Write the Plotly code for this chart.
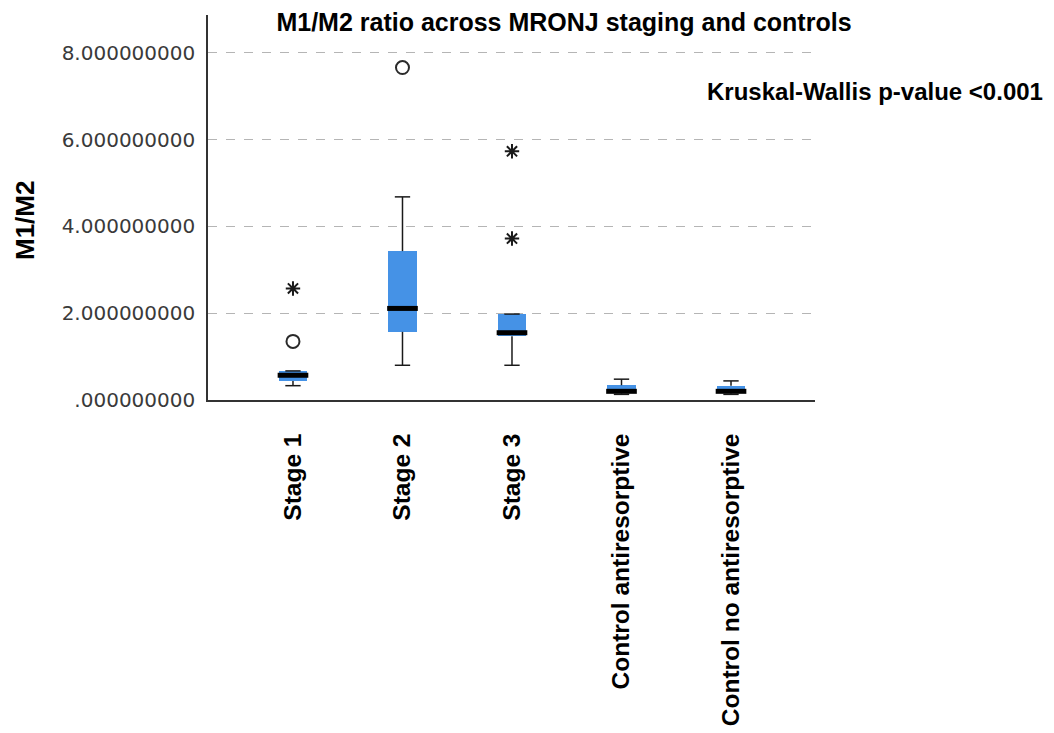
import plotly.graph_objects as go

categories = ["Stage 1", "Stage 2", "Stage 3", "Control antiresorptive", "Control no antiresorptive"]
q1 = [0.44, 1.57, 1.47, 0.15, 0.15]
median = [0.57, 2.11, 1.55, 0.20, 0.20]
q3 = [0.67, 3.43, 1.98, 0.34, 0.33]
lower_whisker = [0.33, 0.80, 0.80, 0.13, 0.13]
upper_whisker = [0.67, 4.68, 1.98, 0.48, 0.44]

# outliers (circles) and extremes (stars): (category index, value)
outlier_cat = [0, 1]
outlier_val = [1.35, 7.66]
extreme_cat = [0, 2, 2]
extreme_val = [2.57, 5.73, 3.72]

y_tickvals = [0, 2, 4, 6, 8]
y_ticktext = [".000000000", "2.000000000", "4.000000000", "6.000000000", "8.000000000"]

pos = list(range(len(categories)))
BOX_W = 0.26
CAP_W = 0.14
MED_W = 0.28
BLUE = "#4592e6"
INK = "#1a1a1a"
BOLD = dict(family="Liberation Sans, Arial, sans-serif", color="black", weight="bold")

fig = go.Figure()

# boxes
fig.add_trace(go.Bar(
    x=pos, y=[b - a for a, b in zip(q1, q3)], base=q1, width=BOX_W,
    marker=dict(color=BLUE, line=dict(width=0)), hoverinfo="skip", showlegend=False))

# whiskers, caps and medians
wx, wy, cx, cy, mx, my = [], [], [], [], [], []
for i in pos:
    wx += [i, i, None, i, i, None]
    wy += [lower_whisker[i], q1[i], None, q3[i], upper_whisker[i], None]
    cx += [i - CAP_W / 2, i + CAP_W / 2, None, i - CAP_W / 2, i + CAP_W / 2, None]
    cy += [lower_whisker[i], lower_whisker[i], None, upper_whisker[i], upper_whisker[i], None]
    mx += [i - MED_W / 2, i + MED_W / 2, None]
    my += [median[i], median[i], None]

fig.add_trace(go.Scatter(x=wx, y=wy, mode="lines", line=dict(color=INK, width=1.5),
                         hoverinfo="skip", showlegend=False))
fig.add_trace(go.Scatter(x=cx, y=cy, mode="lines", line=dict(color=INK, width=1.5),
                         hoverinfo="skip", showlegend=False))
fig.add_trace(go.Scatter(x=mx, y=my, mode="lines", line=dict(color="black", width=5),
                         hoverinfo="skip", showlegend=False))

# outliers
fig.add_trace(go.Scatter(x=outlier_cat, y=outlier_val, mode="markers",
                         marker=dict(symbol="circle-open", size=13, color="#2a2a2a",
                                     line=dict(width=2, color="#2a2a2a")),
                         showlegend=False))
fig.add_trace(go.Scatter(x=extreme_cat, y=extreme_val, mode="markers",
                         marker=dict(symbol="asterisk-open", size=12, color="#1a1a1a",
                                     line=dict(width=2, color="#1a1a1a")),
                         showlegend=False))

fig.update_layout(
    width=1054, height=733,
    margin=dict(l=208, r=239, t=15, b=333, autoexpand=False),
    paper_bgcolor="white", plot_bgcolor="white",
    title=dict(text="M1/M2 ratio across MRONJ staging and controls",
               x=564 / 1054, xanchor="center", xref="container",
               y=1 - 22 / 733, yanchor="middle", yref="container",
               font=dict(size=25, **BOLD)),
    bargap=0,
)

fig.update_xaxes(
    range=[-0.776, 4.767], tickvals=pos, ticktext=categories, tickangle=-90,
    tickfont=dict(size=24.5, **BOLD), showline=True, linecolor="#333333", linewidth=1.5,
    showgrid=False, zeroline=False, ticks="", ticklabelstandoff=22, automargin=False,
)
fig.update_yaxes(
    range=[0, 8.87], tickvals=y_tickvals, ticktext=y_ticktext,
    tickfont=dict(size=20, family="DejaVu Sans, sans-serif", color="#3a3a3a"),
    showline=True, linecolor="#333333", linewidth=1.5,
    showgrid=True, gridcolor="#b5b5b5", griddash="dash", gridwidth=1,
    zeroline=False, ticks="", ticklabelstandoff=7, automargin=False,
)

fig.add_annotation(text="M1/M2", xref="paper", yref="paper",
                   x=(25 - 208) / 607, y=(400 - 221) / 385, xanchor="center", yanchor="middle",
                   textangle=-90, showarrow=False, font=dict(size=26, **BOLD))
fig.add_annotation(text="Kruskal-Wallis p-value <0.001", xref="paper", yref="paper",
                   x=(705 - 208) / 607, y=(400 - 92) / 385, xanchor="left", yanchor="middle",
                   showarrow=False, font=dict(size=24, **BOLD))

fig.write_html("out.html")
